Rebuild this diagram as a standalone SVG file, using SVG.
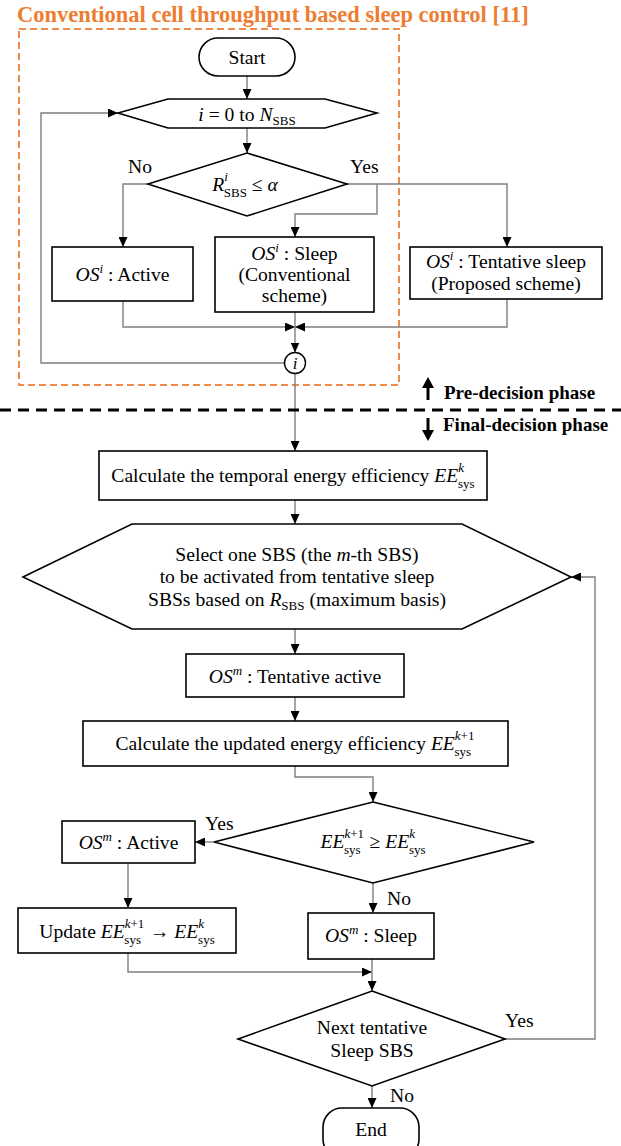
<svg xmlns="http://www.w3.org/2000/svg" width="621" height="1146" viewBox="0 0 621 1146">
<style>
text { font-family: "Liberation Serif", "Times New Roman", serif; font-size: 19.6px; fill: #000; }
.c { text-anchor: middle; }
.m { font-style: italic; }
.s { font-size: 13px; }
.shape { fill: #fff; stroke: #000; stroke-width: 1.6; }
.conn { fill: none; stroke: #7f7f7f; stroke-width: 1.4; }
.arr { marker-end: url(#ah); }
.phase { font-weight: bold; font-size: 19px; }
</style>
<defs>
<marker id="ah" markerWidth="10" markerHeight="9" refX="10" refY="4.5" orient="auto" markerUnits="userSpaceOnUse">
<path d="M0,0 L10,4.5 L0,9 z" fill="#000"/>
</marker>
</defs>
<rect width="621" height="1146" fill="#fff"/>

<g id="title">
<text x="17" y="22" style="font-size:22.5px;font-weight:bold;fill:#ED7D31">Conventional cell throughput based sleep control [11]</text>
<rect x="19" y="29" width="380" height="356" fill="none" stroke="#EE8A4A" stroke-width="2" stroke-dasharray="7 4"/>
</g>

<g id="connectors">
<path class="conn arr" d="M247,76 V99"/>
<path class="conn arr" d="M247,128 V153"/>
<path class="conn arr" d="M148,184 H123 V247"/>
<path class="conn arr" d="M347,184 H507 V247"/>
<path class="conn arr" d="M377,184 V214 H295 V237"/>
<path class="conn arr" d="M123,301 V327 H295"/>
<path class="conn arr" d="M507,299 V327 H295"/>
<path class="conn arr" d="M295,312 V352.5"/>
<path class="conn arr" d="M284.5,363 H41 V113 H118"/>
<path class="conn arr" d="M295,373.5 V451"/>
<path class="conn arr" d="M295,500 V524"/>
<path class="conn arr" d="M295,629 V654"/>
<path class="conn arr" d="M295,697 V721"/>
<path class="conn arr" d="M295,766 V777 H373 V802"/>
<path class="conn arr" d="M214,842 H195"/>
<path class="conn arr" d="M128,863 V908"/>
<path class="conn arr" d="M373,883 V913"/>
<path class="conn arr" d="M128,953 V972 H372"/>
<path class="conn arr" d="M372,959 V991"/>
<path class="conn arr" d="M505,1039 H595 V577 H571"/>
<path class="conn arr" d="M372,1086 V1108"/>
<text x="128" y="173">No</text>
<text x="350" y="173">Yes</text>
<text x="205" y="830">Yes</text>
<text x="387" y="905">No</text>
<text x="505" y="1027">Yes</text>
<text x="390" y="1102">No</text>
</g>

<g id="start">
<rect class="shape" x="199" y="38" width="96" height="38" rx="19"/>
<text class="c" x="247" y="64">Start</text>
</g>

<g id="loop">
<polygon class="shape" points="118,113 168,99 325,99 377,113 325,128 168,128"/>
<text class="c" x="247" y="121"><tspan class="m">i</tspan> = 0 to <tspan class="m">N</tspan><tspan class="s" dy="4">SBS</tspan></text>
</g>

<g id="decision1">
<polygon class="shape" points="247,153 347,184 247,216 148,184"/>
<text class="c" x="245" y="191"><tspan class="m">R</tspan><tspan class="s m" dy="-10">i</tspan><tspan class="s" dx="-4" dy="16">SBS</tspan><tspan dy="-6"> ≤ </tspan><tspan class="m">α</tspan></text>
</g>

<g id="active1">
<rect class="shape" x="52" y="247" width="141" height="54"/>
<text class="c" x="122.5" y="281"><tspan class="m">OS</tspan><tspan class="s m" dy="-8">i</tspan><tspan dy="8"> : Active</tspan></text>
</g>

<g id="sleep1">
<rect class="shape" x="215" y="237" width="159" height="75"/>
<text class="c" x="294.5" y="260"><tspan class="m">OS</tspan><tspan class="s m" dy="-8">i</tspan><tspan dy="8"> : Sleep</tspan></text>
<text class="c" x="294.5" y="281">(Conventional</text>
<text class="c" x="294.5" y="302">scheme)</text>
</g>

<g id="tentative1">
<rect class="shape" x="410" y="247" width="192" height="52"/>
<text class="c" x="506" y="268"><tspan class="m">OS</tspan><tspan class="s m" dy="-8">i</tspan><tspan dy="8"> : Tentative sleep</tspan></text>
<text class="c" x="506" y="290">(Proposed scheme)</text>
</g>

<g id="junction">
<circle cx="295" cy="363" r="10.5" fill="#fff" stroke="#000" stroke-width="1.4"/>
<text class="c m" x="295" y="369" style="font-size:17px">i</text>
</g>

<g id="phases">
<path d="M0,410 H621" stroke="#000" stroke-width="3" stroke-dasharray="11 7" fill="none"/>
<path d="M428,400 V385" stroke="#000" stroke-width="3"/>
<polygon points="422,388 428,377 434,388" fill="#000"/>
<path d="M428,418 V431" stroke="#000" stroke-width="3"/>
<polygon points="422,430 428,441 434,430" fill="#000"/>
<text class="phase" x="444" y="399">Pre-decision phase</text>
<text class="phase" x="443" y="431">Final-decision phase</text>
</g>

<g id="calc-temporal">
<rect class="shape" x="99" y="451" width="388" height="49"/>
<text class="c" x="293" y="482">Calculate the temporal energy efficiency <tspan class="m">EE</tspan><tspan class="s m" dy="-10">k</tspan><tspan class="s" dx="-6" dy="16">sys</tspan></text>
</g>

<g id="select">
<polygon class="shape" points="23,577 132,524 462,524 571,577 462,629 132,629"/>
<text class="c" x="297" y="561">Select one SBS (the <tspan class="m">m</tspan>-th SBS)</text>
<text class="c" x="297" y="583">to be activated from tentative sleep</text>
<text class="c" x="297" y="606">SBSs based on <tspan class="m">R</tspan><tspan class="s" dy="4">SBS</tspan><tspan dy="-4"> (maximum basis)</tspan></text>
</g>

<g id="tentative-active">
<rect class="shape" x="186" y="654" width="218" height="43"/>
<text class="c" x="295" y="683"><tspan class="m">OS</tspan><tspan class="s m" dy="-8">m</tspan><tspan dy="8"> : Tentative active</tspan></text>
</g>

<g id="calc-updated">
<rect class="shape" x="83" y="721" width="425" height="45"/>
<text class="c" x="295" y="750">Calculate the updated energy efficiency <tspan class="m">EE</tspan><tspan class="s" dy="-10"><tspan class="m">k</tspan>+1</tspan><tspan class="s" dx="-20" dy="16">sys</tspan></text>
</g>

<g id="decision2">
<polygon class="shape" points="373,802 534,842 373,883 214,842"/>
<text class="c" x="373" y="848"><tspan class="m">EE</tspan><tspan class="s" dy="-10"><tspan class="m">k</tspan>+1</tspan><tspan class="s" dx="-20" dy="16">sys</tspan><tspan dx="4" dy="-6"> ≥ </tspan><tspan class="m">EE</tspan><tspan class="s m" dy="-10">k</tspan><tspan class="s" dx="-6" dy="16">sys</tspan></text>
</g>

<g id="active2">
<rect class="shape" x="62" y="821" width="133" height="42"/>
<text class="c" x="128.5" y="849"><tspan class="m">OS</tspan><tspan class="s m" dy="-8">m</tspan><tspan dy="8"> : Active</tspan></text>
</g>

<g id="update">
<rect class="shape" x="18" y="908" width="218" height="45"/>
<text class="c" x="127" y="938">Update <tspan class="m">EE</tspan><tspan class="s" dy="-10"><tspan class="m">k</tspan>+1</tspan><tspan class="s" dx="-20" dy="16">sys</tspan><tspan dx="4" dy="-6"> → </tspan><tspan class="m">EE</tspan><tspan class="s m" dy="-10">k</tspan><tspan class="s" dx="-6" dy="16">sys</tspan></text>
</g>

<g id="sleep2">
<rect class="shape" x="308" y="913" width="126" height="46"/>
<text class="c" x="371" y="942"><tspan class="m">OS</tspan><tspan class="s m" dy="-8">m</tspan><tspan dy="8"> : Sleep</tspan></text>
</g>

<g id="decision3">
<polygon class="shape" points="372,991 505,1039 372,1086 238,1039"/>
<text class="c" x="372" y="1034">Next tentative</text>
<text class="c" x="372" y="1057">Sleep SBS</text>
</g>

<g id="end">
<rect class="shape" x="323" y="1108" width="96" height="50" rx="19"/>
<text class="c" x="371" y="1136">End</text>
</g>
</svg>
